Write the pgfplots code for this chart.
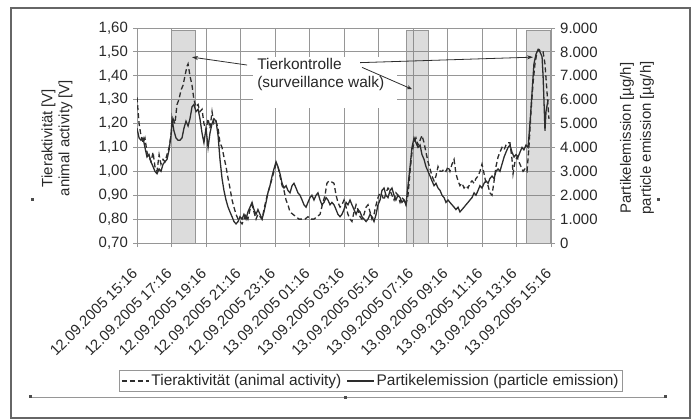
\documentclass[border=0pt]{standalone}
\usepackage{pgfplots}
\pgfplotsset{compat=1.18}
\usepackage{fontspec}
\setmainfont{Liberation Sans}
\usetikzlibrary{arrows.meta}
\definecolor{gridc}{RGB}{150,150,150}
\definecolor{linec}{RGB}{45,45,45}
\definecolor{txtc}{RGB}{40,40,40}
\begin{document}
\fontsize{15}{18}\selectfont
\begin{tikzpicture}[x=1bp,y=1bp]
\useasboundingbox (0,0) rectangle (693,419);
\draw[gray!80!black, line width=1.2bp] (11,1) rectangle (690,411);
\begin{axis}[
  at={(137bp,176bp)}, anchor=south west,
  scale only axis, width=414bp, height=215bp,
  xmin=0, xmax=24, ymin=0.7, ymax=1.6,
  xtick={0,2,...,24},
  xticklabels={{12.09.2005 15:16},{12.09.2005 17:16},{12.09.2005 19:16},{12.09.2005 21:16},{12.09.2005 23:16},{13.09.2005 01:16},{13.09.2005 03:16},{13.09.2005 05:16},{13.09.2005 07:16},{13.09.2005 09:16},{13.09.2005 11:16},{13.09.2005 13:16},{13.09.2005 15:16}},
  ytick={0.7,0.8,...,1.61},
  yticklabels={{0,70},{0,80},{0,90},{1,00},{1,10},{1,20},{1,30},{1,40},{1,50},{1,60}},
  xtick pos=bottom, ytick pos=left,
  tick align=outside, major tick length=4bp,
  grid=major, major grid style={gridc, line width=0.9bp},
  axis line style={gridc, line width=0.9bp},
  tick style={gridc, line width=0.9bp},
  tick label style={font=\fontsize{15}{18}\selectfont, text=txtc},
  xticklabel style={xshift=-6bp, yshift=-20bp, rotate=45, anchor=north east, inner sep=0pt},
  clip=true,
]
\fill[gray, fill opacity=0.28] (axis cs:2,0.7) rectangle (axis cs:3.4,1.59);
\draw[gridc, line width=1bp] (axis cs:2,0.7) rectangle (axis cs:3.4,1.59);
\fill[gray, fill opacity=0.28] (axis cs:15.63,0.7) rectangle (axis cs:16.89,1.59);
\draw[gridc, line width=1bp] (axis cs:15.63,0.7) rectangle (axis cs:16.89,1.59);
\fill[gray, fill opacity=0.28] (axis cs:22.6,0.7) rectangle (axis cs:23.95,1.59);
\draw[gridc, line width=1bp] (axis cs:22.6,0.7) rectangle (axis cs:23.95,1.59);
\fill[white] (axis cs:6.72,1.265) rectangle (axis cs:15.07,1.478);
\addplot[linec, line width=1.3bp, dash pattern=on 5bp off 3bp] coordinates {
(0.00,1.31) (0.12,1.20) (0.23,1.15) (0.35,1.12) (0.46,1.14) (0.58,1.08) (0.70,1.06) (0.81,1.04) (0.93,1.08) (1.04,1.02) (1.16,1.00) (1.28,1.07) (1.39,1.03) (1.51,1.05) (1.62,1.04) (1.74,1.07) (1.86,1.10) (1.97,1.15) (2.09,1.22) (2.20,1.20) (2.32,1.28) (2.43,1.30) (2.55,1.34) (2.67,1.36) (2.78,1.40) (2.90,1.44) (2.96,1.45) (3.07,1.40) (3.19,1.36) (3.30,1.30) (3.42,1.27) (3.54,1.28) (3.65,1.25) (3.77,1.26) (3.88,1.20) (4.00,1.17) (4.12,1.22) (4.23,1.18) (4.35,1.25) (4.46,1.20) (4.58,1.21) (4.70,1.18) (4.81,1.12) (4.93,1.10) (5.04,1.06) (5.16,1.02) (5.28,0.97) (5.39,0.93) (5.51,0.88) (5.62,0.85) (5.74,0.82) (5.86,0.80) (5.97,0.79) (6.09,0.78) (6.20,0.80) (6.32,0.82) (6.43,0.80) (6.55,0.84) (6.67,0.86) (6.78,0.83) (6.90,0.80) (7.01,0.82) (7.13,0.81) (7.25,0.80) (7.36,0.84) (7.48,0.88) (7.59,0.91) (7.71,0.94) (7.83,0.97) (7.94,1.00) (8.06,1.03) (8.17,1.02) (8.29,0.98) (8.41,0.94) (8.52,0.92) (8.64,0.88) (8.75,0.86) (8.87,0.83) (9.04,0.82) (9.22,0.81) (9.39,0.80) (9.57,0.80) (9.74,0.80) (9.91,0.81) (10.09,0.80) (10.26,0.80) (10.43,0.81) (10.61,0.82) (10.78,0.87) (10.90,0.90) (11.01,0.95) (11.13,0.96) (11.30,0.955) (11.42,0.95) (11.54,0.90) (11.65,0.87) (11.77,0.85) (11.88,0.86) (12.00,0.88) (12.12,0.85) (12.23,0.82) (12.35,0.80) (12.46,0.79) (12.58,0.83) (12.70,0.86) (12.81,0.84) (12.93,0.81) (13.04,0.80) (13.16,0.82) (13.28,0.85) (13.39,0.86) (13.51,0.83) (13.62,0.80) (13.74,0.82) (13.86,0.86) (13.97,0.89) (14.09,0.91) (14.20,0.90) (14.32,0.88) (14.43,0.91) (14.55,0.93) (14.67,0.92) (14.78,0.90) (14.90,0.88) (15.01,0.91) (15.13,0.90) (15.25,0.87) (15.36,0.89) (15.48,0.88) (15.59,0.86) (15.71,0.90) (15.83,1.00) (15.94,1.08) (16.06,1.12) (16.17,1.14) (16.29,1.11) (16.41,1.13) (16.52,1.15) (16.64,1.12) (16.75,1.08) (16.87,1.04) (16.99,1.01) (17.10,0.98) (17.22,0.96) (17.33,0.98) (17.45,1.02) (17.57,1.00) (17.68,1.00) (17.80,1.01) (17.91,1.00) (18.03,1.02) (18.14,1.00) (18.26,1.03) (18.38,1.05) (18.49,0.99) (18.61,0.96) (18.72,0.94) (18.84,0.95) (18.96,0.93) (19.07,0.94) (19.19,0.93) (19.30,0.95) (19.42,0.96) (19.54,0.95) (19.65,0.97) (19.77,0.98) (19.88,1.00) (20.00,1.03) (20.12,0.99) (20.23,0.95) (20.35,0.94) (20.46,0.91) (20.58,0.90) (20.70,0.96) (20.81,1.02) (20.93,1.06) (21.04,1.08) (21.16,1.10) (21.28,1.09) (21.39,1.11) (21.51,1.12) (21.62,1.12) (21.74,1.05) (21.80,0.99) (21.91,1.04) (22.03,1.06) (22.14,1.04) (22.26,1.02) (22.38,1.00) (22.49,1.01) (22.61,1.00) (22.72,1.10) (22.84,1.25) (22.96,1.37) (23.07,1.45) (23.19,1.50) (23.30,1.51) (23.42,1.50) (23.54,1.50) (23.65,1.45) (23.77,1.33) (23.88,1.22)
};
\node[anchor=west, align=left, font=\fontsize{15.5}{18}\selectfont, text=txtc, inner sep=0pt] at (axis cs:6.96,1.405) {Tierkontrolle\\(surveillance walk)};
\draw[linec, line width=0.8bp, -{Stealth[length=6bp,width=4bp]}] (axis cs:6.38,1.445) -- (axis cs:3.19,1.478);
\draw[linec, line width=0.8bp, -{Stealth[length=6bp,width=4bp]}] (axis cs:12.93,1.455) -- (axis cs:22.96,1.478);
\draw[linec, line width=0.8bp, -{Stealth[length=5bp,width=4bp]}] (axis cs:13.05,1.435) -- (axis cs:15.94,1.344);
\end{axis}
\begin{axis}[
  at={(137bp,176bp)}, anchor=south west,
  scale only axis, width=414bp, height=215bp,
  xmin=0, xmax=24, ymin=0, ymax=9000,
  axis x line=none, axis y line*=right,
  ytick={0,1000,...,9000},
  yticklabels={0,{1.000},{2.000},{3.000},{4.000},{5.000},{6.000},{7.000},{8.000},{9.000}},
  tick align=outside, major tick length=4bp,
  axis line style={gridc, line width=0.9bp},
  tick style={gridc, line width=0.9bp},
  tick label style={font=\fontsize{15}{18}\selectfont, text=txtc},
  legend style={at={(0.565,-0.642)}, anchor=center, draw=gridc, line width=0.8bp,
    font=\fontsize{15.5}{18}\selectfont, text=txtc, inner sep=1.5bp,
    /tikz/every even column/.append style={column sep=3bp}},
  legend columns=2,
  legend image code/.code={\draw[#1] (0bp,0bp) -- (27bp,0bp);},
]
\addlegendimage{linec, line width=1.3bp, dash pattern=on 5bp off 3bp}
\addlegendentry{Tieraktivität (animal activity)}
\addplot[linec, line width=1.3bp] coordinates {
(0.00,4800) (0.12,4400) (0.23,4300) (0.35,4400) (0.46,4000) (0.58,3600) (0.70,3700) (0.81,3400) (0.93,3200) (1.04,3000) (1.16,2900) (1.28,3100) (1.39,3000) (1.51,3300) (1.62,3400) (1.74,3500) (1.86,3900) (1.97,4500) (2.03,5200) (2.14,4700) (2.26,4400) (2.38,4300) (2.49,4300) (2.61,4400) (2.72,4800) (2.84,5100) (2.96,4900) (3.07,5200) (3.19,5700) (3.30,5800) (3.42,5500) (3.54,5600) (3.65,5200) (3.77,4600) (3.88,4200) (4.00,4800) (4.12,4000) (4.23,4600) (4.35,5000) (4.46,5200) (4.58,5100) (4.70,4500) (4.81,3500) (4.93,2700) (5.04,2200) (5.16,1800) (5.28,1500) (5.39,1300) (5.51,1100) (5.62,900) (5.74,800) (5.86,900) (5.97,1100) (6.09,1000) (6.20,1200) (6.32,1000) (6.43,1300) (6.55,1500) (6.67,1700) (6.78,1400) (6.90,1200) (7.01,1400) (7.13,1200) (7.25,1000) (7.36,1300) (7.48,1700) (7.59,2100) (7.71,2400) (7.83,2800) (7.94,3100) (8.06,3400) (8.17,3200) (8.29,2900) (8.41,2500) (8.52,2300) (8.64,2400) (8.75,2200) (8.87,2100) (8.99,2400) (9.10,2500) (9.22,2300) (9.33,2100) (9.45,2000) (9.57,1800) (9.68,1600) (9.80,1500) (9.91,1700) (10.03,1900) (10.14,2000) (10.26,1800) (10.38,2000) (10.49,2100) (10.61,1800) (10.72,1600) (10.84,1700) (10.96,1900) (11.07,1800) (11.19,1600) (11.30,1700) (11.42,1600) (11.54,1400) (11.65,1200) (11.77,1100) (11.88,1200) (12.00,1400) (12.12,1700) (12.23,1600) (12.35,1800) (12.46,1600) (12.58,1400) (12.70,1200) (12.81,1400) (12.93,1300) (13.04,1100) (13.16,1000) (13.28,900) (13.39,1000) (13.51,1200) (13.62,1100) (13.74,900) (13.86,1200) (13.97,1600) (14.09,1800) (14.20,2200) (14.32,2300) (14.43,2000) (14.55,1900) (14.67,2200) (14.78,2300) (14.90,2000) (15.01,1800) (15.13,2000) (15.25,1900) (15.36,1700) (15.48,1800) (15.59,1600) (15.71,2400) (15.83,3200) (15.94,4000) (16.06,4400) (16.17,4200) (16.29,4000) (16.41,4100) (16.52,3700) (16.64,3500) (16.75,3200) (16.87,3000) (16.99,2800) (17.10,2600) (17.22,2400) (17.33,2500) (17.45,2300) (17.57,2200) (17.68,2000) (17.80,1900) (17.91,1700) (18.03,1800) (18.14,1700) (18.26,1600) (18.38,1500) (18.49,1400) (18.61,1500) (18.72,1300) (18.84,1400) (18.96,1500) (19.07,1600) (19.19,1700) (19.30,1800) (19.42,1900) (19.54,2100) (19.65,2000) (19.77,2200) (19.88,2400) (20.00,2300) (20.12,2500) (20.23,2600) (20.35,2500) (20.46,2700) (20.58,2800) (20.70,2700) (20.81,3000) (20.93,3100) (21.04,3000) (21.16,3300) (21.28,3600) (21.39,3800) (21.51,4000) (21.62,4100) (21.74,3800) (21.86,3600) (21.97,3700) (22.09,3600) (22.20,3800) (22.32,4000) (22.43,3900) (22.55,4100) (22.67,4000) (22.78,5000) (22.90,6300) (23.01,7500) (23.13,7900) (23.25,8100) (23.36,8000) (23.48,7800) (23.54,7000) (23.59,6000) (23.65,4700) (23.71,5500) (23.83,6000)
};
\addlegendentry{Partikelemission (particle emission)}
\end{axis}
\node[rotate=90, align=center, font=\fontsize{15}{17}\selectfont, text=txtc] at (57,281) {Tieraktivität [V]\\animal activity [V]};
\node[rotate=90, align=center, font=\fontsize{15}{20}\selectfont, text=txtc] at (637,281) {Partikelemission [µg/h]\\particle emission [µg/h]};
\draw[gridc, line width=0.8bp] (30,22) -- (665,22);
\fill[black!70] (29,21) rectangle (32,24);
\fill[black!70] (344,20) rectangle (347,23);
\fill[black!70] (664,21) rectangle (667,24);
\fill[black!70] (31,218) rectangle (34,221);
\fill[black!70] (657,218) rectangle (660,221);
\end{tikzpicture}
\end{document}
